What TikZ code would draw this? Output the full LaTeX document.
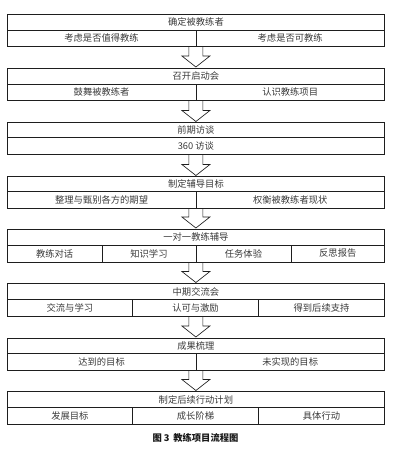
\documentclass[tikz,border=0pt]{standalone}
\usepackage{fontspec}
\setmainfont{Noto Sans CJK SC}
\usetikzlibrary{calc,backgrounds}
\definecolor{linec}{HTML}{1E1E1E}
\definecolor{textc}{HTML}{3A3A3A}
\tikzset{
  cell/.style={draw=linec, line width=0.65pt, rectangle, inner sep=0pt, outer sep=0pt,
    text=textc, font=\fontsize{9.3}{11}\selectfont, anchor=center},
  fatarrowstyle/.style={draw=linec, line width=0.65pt, fill=white, line join=miter},
  captionstyle/.style={text=black!90, font=\fontsize{9.3}{11}\selectfont\bfseries, inner sep=0pt}
}
% name, top, bottom, left, right, text
\newcommand\cellnode[6]{%
  \pgfmathsetmacro\cx{(#4+#5)/2}%
  \pgfmathsetmacro\cy{(#2+#3)/2}%
  \pgfmathsetmacro\cw{#5-#4}%
  \pgfmathsetmacro\ch{#3-#2}%
  \node[cell, minimum width=\cw pt, minimum height=\ch pt] (#1) at (\cx,\cy) {#6};}
% from row node (bottom) to next title node (top)
\newcommand\fatarrow[2]{%
  \begin{pgfonlayer}{background}
  \draw[fatarrowstyle] let \p1=(#1.south), \p2=(#2.north) in
    (\x2-7pt,\y1) -- (\x2-7pt,\y2+12pt) -- (\x2-14pt,\y2+12pt) -- (\x2,\y2+1pt)
    -- (\x2+14pt,\y2+12pt) -- (\x2+7pt,\y2+12pt) -- (\x2+7pt,\y1);
  \end{pgfonlayer}}
\begin{document}
\begin{tikzpicture}[x=1pt,y=-1pt]
\useasboundingbox (0,0) rectangle (394,451);
\def\L{7.3}\def\R{384.5}\def\M{195.9}
% Box 1
\cellnode{t1}{14}{30.5}{\L}{\R}{确定被教练者}
\cellnode{r1a}{30.5}{46}{\L}{\M}{考虑是否值得教练}
\cellnode{r1b}{30.5}{46}{\M}{\R}{考虑是否可教练}
% Box 2
\cellnode{t2}{68}{84}{\L}{\R}{召开启动会}
\cellnode{r2a}{84}{100}{\L}{\M}{鼓舞被教练者}
\cellnode{r2b}{84}{100}{\M}{\R}{认识教练项目}
% Box 3
\cellnode{t3}{122.5}{137.5}{\L}{\R}{前期访谈}
\cellnode{r3a}{137.5}{154}{\L}{\R}{360 访谈}
% Box 4
\cellnode{t4}{176.5}{191}{\L}{\R}{制定辅导目标}
\cellnode{r4a}{191}{208}{\L}{\M}{整理与甄别各方的期望}
\cellnode{r4b}{191}{208}{\M}{\R}{权衡被教练者现状}
% Box 5
\cellnode{t5}{229}{245}{\L}{\R}{一对一教练辅导}
\cellnode{r5a}{245}{262}{\L}{102}{教练对话}
\cellnode{r5b}{245}{262}{102}{\M}{知识学习}
\cellnode{r5c}{245}{262}{\M}{291}{任务体验}
\cellnode{r5d}{245}{262}{291}{\R}{反思报告}
% Box 6
\cellnode{t6}{283.5}{299.5}{\L}{\R}{中期交流会}
\cellnode{r6a}{299.5}{316.5}{\L}{132.5}{交流与学习}
\cellnode{r6b}{299.5}{316.5}{132.5}{258.5}{认可与激励}
\cellnode{r6c}{299.5}{316.5}{258.5}{\R}{得到后续支持}
% Box 7
\cellnode{t7}{338}{353.5}{\L}{\R}{成果梳理}
\cellnode{r7a}{353.5}{370.5}{\L}{\M}{达到的目标}
\cellnode{r7b}{353.5}{370.5}{\M}{\R}{未实现的目标}
% Box 8
\cellnode{t8}{391.5}{407.5}{\L}{\R}{制定后续行动计划}
\cellnode{r8a}{407.5}{424}{\L}{132.5}{发展目标}
\cellnode{r8b}{407.5}{424}{132.5}{258.5}{成长阶梯}
\cellnode{r8c}{407.5}{424}{258.5}{\R}{具体行动}
% Arrows
\fatarrow{r1a}{t2}
\fatarrow{r2a}{t3}
\fatarrow{r3a}{t4}
\fatarrow{r4a}{t5}
\fatarrow{r5a}{t6}
\fatarrow{r6a}{t7}
\fatarrow{r7a}{t8}
% Caption
\node[captionstyle] (cap) at (195.5,437.5) {图 3\hspace{0.4em}教练项目流程图};
\end{tikzpicture}
\end{document}
